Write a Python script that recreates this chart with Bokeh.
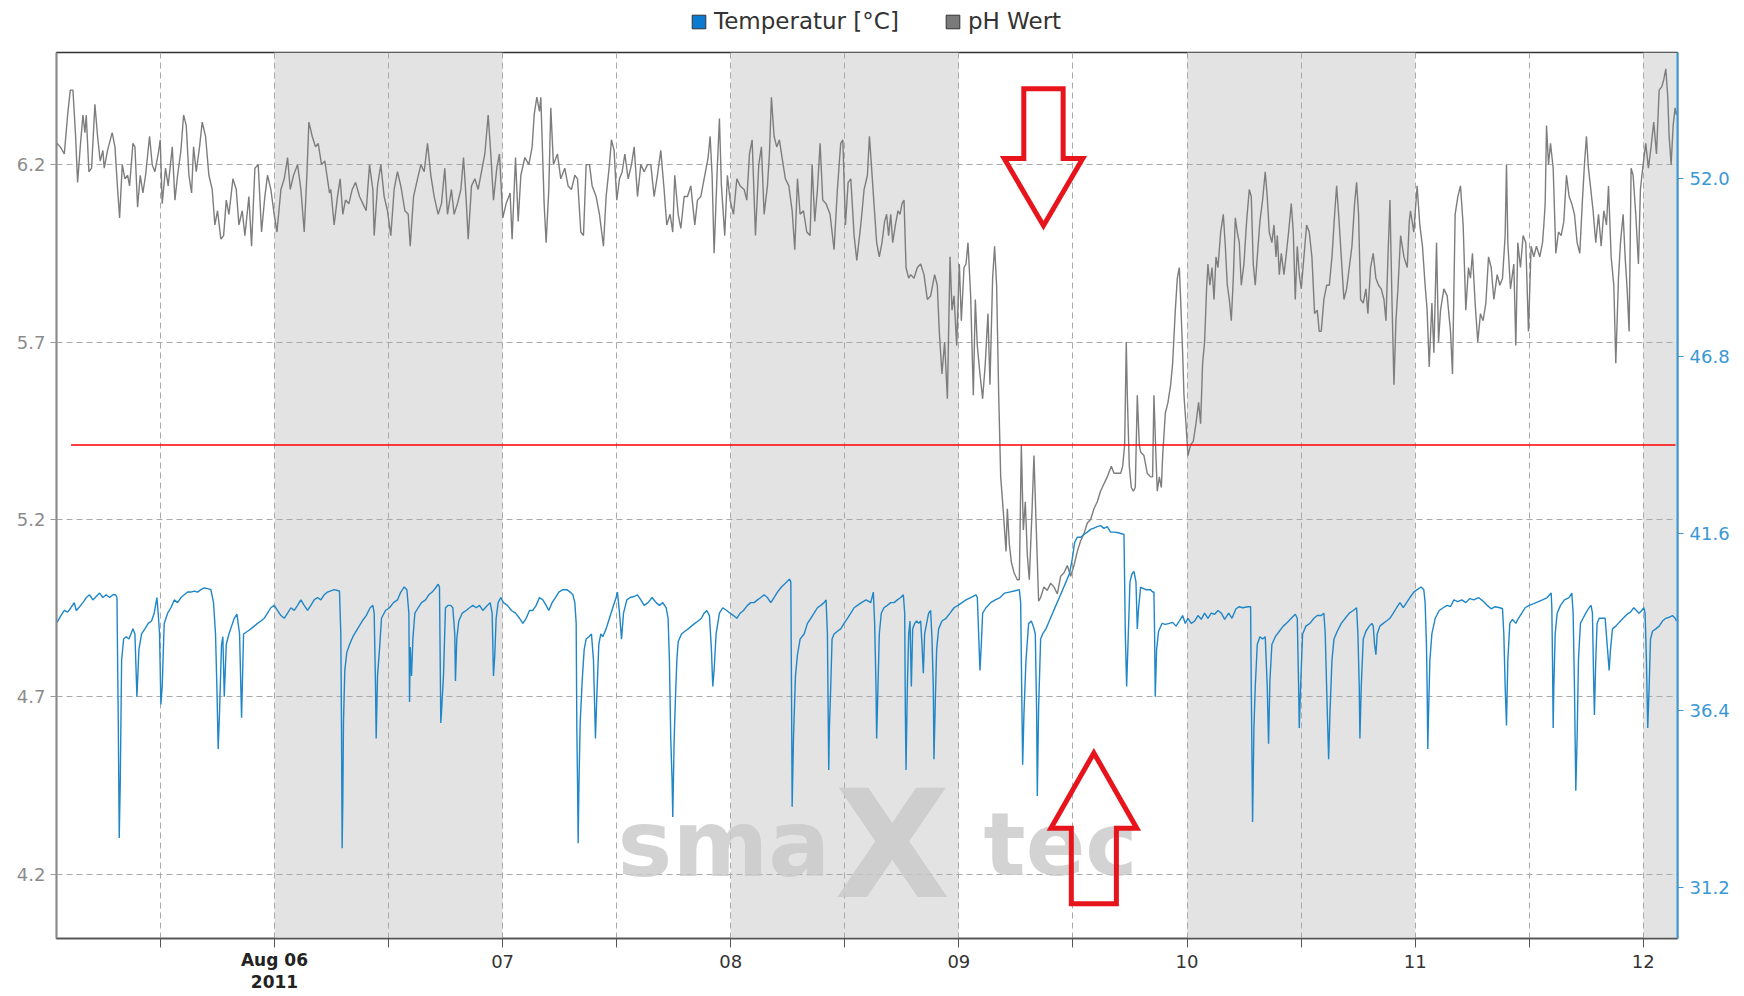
from bokeh.plotting import figure
from bokeh.layouts import column
from bokeh.models import (Range1d, LinearAxis, FixedTicker, BoxAnnotation, Label,
                          Legend, LegendItem, NumeralTickFormatter)
from bokeh.embed import file_html
from bokeh.resources import INLINE

# time axis: hours counted from 2011-08-05 00:00
# ---------------- pH Wert (hours, pH) ----------------
PH_PART1 = [(1.11,6.26),(1.47,6.25),(1.89,6.23),(2.24,6.34),(2.52,6.41),(2.80,6.41),(3.08,6.28),(3.29,6.15),(3.57,6.25),(3.85,6.34),
            (4.06,6.29),(4.20,6.34),(4.48,6.18),(4.76,6.19),(5.11,6.37),(5.39,6.28),(5.67,6.21),(5.95,6.24),(6.09,6.19),(6.44,6.24),
            (6.93,6.29),(7.22,6.25),(7.50,6.13),(7.71,6.05),(7.99,6.20),(8.27,6.16),(8.55,6.17),(8.76,6.14),(9.11,6.26),(9.32,6.25),
            (9.60,6.08),(9.88,6.17),(10.16,6.12),(10.44,6.17),(10.86,6.28),(11.14,6.20),(11.42,6.18),(11.77,6.23),(11.98,6.27),(12.19,6.09),
            (12.54,6.19),(12.82,6.14),(13.25,6.25),(13.53,6.10),(13.81,6.17),(14.16,6.24),(14.44,6.34),(14.72,6.31),(15.00,6.17),(15.28,6.12),
            (15.49,6.25),(15.77,6.18),(16.12,6.25),(16.40,6.32),(16.75,6.28),(17.10,6.17),(17.45,6.13),(17.73,6.03),(18.01,6.07),(18.36,5.99),
            (18.65,6.00),(18.93,6.10),(19.21,6.06),(19.63,6.16),(19.98,6.13),(20.26,6.03),(20.61,6.07),(20.89,6.00),(21.31,6.11),(21.59,5.97),
            (21.94,6.19),(22.29,6.20),(22.64,6.01),(22.99,6.11),(23.27,6.17),(23.62,6.13),(23.97,6.06),(24.26,6.01),(24.68,6.13),(25.03,6.16),
            (25.38,6.22),(25.66,6.13),(26.01,6.17),(26.43,6.20),(26.78,6.13),(27.13,6.01),(27.41,6.17),(27.62,6.32),(27.97,6.28),(28.32,6.25),
            (28.60,6.26),(28.95,6.20),(29.30,6.21),(29.79,6.12)]
PH_PART2 = [(29.93,6.13),(30.28,6.03),(30.63,6.11),(30.91,6.16),(31.19,6.06),(31.47,6.10),(31.83,6.09),(32.18,6.13),(32.53,6.15),(32.95,6.11),
            (33.30,6.09),(33.65,6.07),(34.00,6.20),(34.35,6.13),(34.49,6.00),(34.84,6.14),(35.19,6.20),(35.54,6.11),(35.89,6.07),(36.24,6.00),
            (36.59,6.13),(36.94,6.18),(37.29,6.14),(37.72,6.07),(38.07,6.06),(38.28,5.97),(38.63,6.11),(39.05,6.16),(39.40,6.20),(39.75,6.18),
            (40.10,6.26),(40.45,6.17),(40.80,6.11),(41.22,6.06),(41.57,6.09),(41.92,6.19),(42.20,6.06),(42.62,6.13),(42.90,6.06),(43.25,6.09),
            (43.61,6.13),(43.89,6.22),(44.17,6.10),(44.38,5.99),(44.73,6.14),(45.08,6.16),(45.43,6.13),(45.78,6.18),(46.13,6.23),(46.48,6.34),
            (46.76,6.23),(47.04,6.10),(47.39,6.19),(47.67,6.23),(48.02,6.05),(48.37,6.09),(48.79,6.12),(49.00,5.99),(49.36,6.22),(49.64,6.04),
            (49.92,6.17),(50.34,6.22),(50.76,6.20),(51.11,6.25),(51.32,6.34),(51.60,6.39),(51.88,6.35),(52.02,6.39),(52.37,6.09),(52.58,5.98),
            (52.86,6.13),(53.07,6.36),(53.35,6.20),(53.77,6.23),(54.12,6.16),(54.54,6.19),(54.89,6.14),(55.24,6.13),(55.60,6.17),(55.88,6.16),
            (56.23,6.01),(56.51,6.00),(56.79,6.20),(57.14,6.20),(57.42,6.14),(57.84,6.11),(58.19,6.06)]
PH_PART3 = [(58.61,5.97),(58.89,6.11),(59.24,6.20),(59.45,6.27),(59.73,6.24),(60.01,6.10),(60.30,6.16),(60.58,6.18),(60.86,6.23),(61.21,6.16),
            (61.56,6.20),(61.84,6.25),(62.19,6.11),(62.54,6.20),(62.89,6.18),(63.24,6.20),(63.59,6.20),(63.94,6.11),(64.29,6.17),(64.64,6.24),
            (64.99,6.13),(65.27,6.03),(65.62,6.06),(65.90,6.01),(66.11,6.17),(66.47,6.06),(66.75,6.02),(67.10,6.11),(67.45,6.11),(67.80,6.14),
            (68.22,6.03),(68.50,6.10),(68.85,6.11),(69.20,6.16),(69.62,6.22),(69.83,6.28),(70.04,6.17),(70.25,5.95),(70.60,6.20),(70.81,6.33),
            (71.02,6.14),(71.37,6.00),(71.65,6.17),(71.93,6.10),(72.29,6.06),(72.64,6.16),(72.99,6.14),(73.41,6.13),(73.69,6.10),(73.97,6.23),
            (74.25,6.27),(74.60,6.00),(74.95,6.20),(75.23,6.25),(75.51,6.06),(75.86,6.14),(76.07,6.23),(76.28,6.39),(76.56,6.28),(76.84,6.25),
            (77.12,6.27),(77.40,6.22),(77.75,6.16),(78.11,6.14),(78.46,6.07),(78.74,5.96),(79.02,6.16),(79.30,6.06),(79.65,6.07),(80.00,6.01),
            (80.35,6.00),(80.56,6.20),(80.84,6.04),(81.12,6.13),(81.40,6.26),(81.68,6.10),(82.03,6.09),(82.45,6.06),(82.87,5.96),(83.22,6.13),
            (83.57,6.26),(83.79,6.27),(84.07,6.03),(84.35,6.15),(84.63,6.16),(84.98,6.00),(85.26,5.93),(85.68,6.03),(86.03,6.13),(86.38,6.17),
            (86.59,6.28)]
PH_PART4 = [(86.72,6.23),(87.07,6.09),(87.35,5.98),(87.63,5.94),(87.91,5.98),(88.19,6.04),(88.40,6.06),(88.61,6.00),(88.83,6.06),(89.04,5.98),
            (89.32,6.03),(89.60,6.07),(89.81,6.06),(90.02,6.09),(90.23,6.10),(90.44,5.91),(90.72,5.88),(90.93,5.89),(91.28,5.88),(91.63,5.91),
            (91.98,5.92),(92.33,5.89),(92.68,5.82),(93.03,5.83),(93.45,5.89),(93.73,5.86),(93.94,5.73),(94.22,5.61),(94.50,5.70),(94.79,5.54),
            (95.07,5.94),(95.28,5.79),(95.49,5.83),(95.77,5.69),(96.05,5.92),(96.26,5.76),(96.54,5.91),(96.75,5.92),(96.96,5.98),(97.24,5.83),
            (97.52,5.55),(97.73,5.82),(97.94,5.69),(98.22,5.61),(98.50,5.54),(98.78,5.64),(99.06,5.78),(99.27,5.58),(99.55,5.88),(99.76,5.97),
            (99.97,5.86),(100.19,5.55),(100.40,5.32),(100.68,5.22),(100.96,5.11),(101.10,5.23),(101.31,5.13),(101.52,5.08),(101.80,5.05),(102.15,5.03),
            (102.36,5.03),(102.57,5.41),(102.78,5.17),(102.99,5.25),(103.20,5.10),(103.41,5.03),(103.69,5.22),(103.90,5.38),(104.11,5.20),(104.39,4.97),
            (104.60,4.98),(104.95,5.01),(105.30,5.00),(105.65,5.02),(106.00,5.01),(106.36,4.99),(106.71,5.04),(107.06,5.05),(107.41,5.07),(107.76,5.04),
            (108.11,5.07),(108.46,5.11),(108.81,5.14),(109.16,5.16),(109.51,5.19),(109.86,5.20),(110.21,5.23),(110.56,5.25),(110.91,5.28),(111.61,5.32),
            (112.04,5.35),(112.32,5.33),(112.67,5.33),(113.02,5.33),(113.23,5.35),(113.44,5.41),(113.61,5.70),(113.72,5.55),(113.93,5.35),(114.14,5.29),
            (114.35,5.28),(114.56,5.29),(114.77,5.55),(114.98,5.41)]
PH_PART5 = [(115.12,5.39),(115.47,5.38),(115.82,5.33),(116.17,5.32),(116.38,5.32),(116.52,5.55),(116.73,5.38),(116.87,5.28),(117.09,5.32),(117.30,5.29),
            (117.44,5.38),(117.72,5.50),(118.00,5.53),(118.28,5.58),(118.49,5.64),(118.77,5.79),(118.98,5.88),(119.19,5.91),(119.33,5.82),(119.54,5.67),
            (119.68,5.55),(119.89,5.47),(120.10,5.38),(120.38,5.41),(120.66,5.42),(120.94,5.47),(121.22,5.53),(121.43,5.47),(121.64,5.64),(121.85,5.70),
            (122.06,5.85),(122.20,5.92),(122.41,5.86),(122.63,5.91),(122.84,5.82),(123.05,5.94),(123.26,5.91),(123.54,6.01),(123.82,6.06),(124.03,5.97),
            (124.24,5.86),(124.45,5.82),(124.66,5.76),(124.87,5.88),(125.08,6.05),(125.29,6.01),(125.50,5.98),(125.71,5.86),(125.99,5.92),(126.27,6.04),
            (126.55,6.13),(126.76,6.11),(126.97,5.92),(127.18,5.86),(127.39,5.94),(127.67,6.04),(127.95,6.10),(128.23,6.18),(128.44,6.11),(128.65,6.01),
            (128.93,5.98),(129.15,6.03),(129.36,5.94),(129.50,6.00),(129.71,5.89),(129.92,5.95),(130.20,5.89),(130.41,5.94),(130.69,6.01),(130.97,6.09),
            (131.18,6.01),(131.39,5.82),(131.60,5.97),(131.81,5.89),(132.02,5.85),(132.30,5.94),(132.58,6.03),(132.86,6.01),(133.14,5.94),(133.42,5.78),
            (133.70,5.79),(133.91,5.73),(134.12,5.73),(134.40,5.82),(134.69,5.86),(134.97,5.86),(135.25,5.94),(135.53,6.06),(135.74,6.14),(135.95,6.06),
            (136.23,5.94),(136.51,5.82),(136.79,5.85),(137.07,5.91),(137.35,5.97),(137.63,6.09),(137.84,6.15),(138.05,6.06),(138.26,5.82),(138.54,5.81),
            (138.82,5.85),(139.03,5.78),(139.31,5.91),(139.59,5.95),(139.87,5.88),(140.15,5.86),(140.43,5.85),(140.72,5.82),(140.93,5.76),(141.14,5.94),
            (141.35,6.10),(141.56,5.82),(141.77,5.58),(141.98,5.76),(142.19,5.85),(142.47,6.00),(142.82,5.94),(143.17,5.91),(143.38,6.04)]
PH_PART6 = [(143.51,6.07),(143.86,6.01),(144.21,6.14),(144.49,6.03),(144.77,5.97),(145.05,5.86),(145.26,5.79),(145.48,5.63),(145.76,5.81),(145.97,5.67),
            (146.25,5.98),(146.46,5.70),(146.67,5.79),(147.02,5.85),(147.37,5.83),(147.72,5.73),(147.93,5.61),(148.21,6.06),(148.49,6.11),(148.77,6.14),
            (149.05,6.03),(149.33,5.79),(149.61,5.91),(149.82,5.88),(150.03,5.95),(150.31,5.81),(150.59,5.70),(150.87,5.78),(151.15,5.76),(151.44,5.81),
            (151.72,5.94),(152.00,5.91),(152.28,5.82),(152.63,5.89),(152.91,5.86),(153.19,5.88),(153.47,6.00),(153.61,6.20),(153.75,5.98),(154.03,5.85),
            (154.38,5.92),(154.59,5.69),(154.80,5.98),(155.08,5.91),(155.36,6.00),(155.64,5.98),(155.92,5.73),(156.20,5.97),(156.48,5.94),(156.76,5.97),
            (157.11,5.94),(157.40,5.98),(157.54,6.03),(157.68,6.09),(157.82,6.31),(158.03,6.20),(158.24,6.26),(158.52,6.19),(158.80,5.95),(159.08,6.01),
            (159.36,6.00),(159.64,6.04),(159.92,6.17),(160.20,6.11),(160.48,6.09),(160.76,6.06),(161.04,5.98),(161.32,5.95),(161.60,6.10),(161.81,6.20),
            (162.02,6.28),(162.23,6.19),(162.44,6.14),(162.72,6.07),(163.00,5.98),(163.29,6.06),(163.57,5.97),(163.85,6.07),(164.13,6.03),(164.34,6.14),
            (164.62,5.94),(164.90,5.86),(165.11,5.64),(165.39,5.88),(165.60,5.98),(165.88,6.06),(166.09,5.94),(166.30,5.85),(166.51,5.73),(166.72,6.19),
            (166.93,6.17),(167.21,6.06),(167.49,5.92),(167.70,6.13),(167.98,6.20),(168.26,6.26),(168.54,6.19),(168.82,6.25),(169.10,6.32),(169.39,6.23),
            (169.67,6.41),(169.95,6.42),(170.16,6.44),(170.37,6.47),(170.58,6.39),(170.72,6.28),(170.93,6.20),(171.14,6.31),(171.35,6.36),(171.49,6.34)]

# ---------------- Temperatur [°C] (hours, °C) ----------------
TEMP_PART1 = [(1.12,38.98),(1.54,39.18),(1.89,39.33),(2.24,39.28),(2.59,39.41),(2.94,39.56),(3.15,39.33),(3.50,39.44),(3.85,39.56),(4.20,39.71),
              (4.55,39.79),(4.90,39.64),(5.25,39.74),(5.60,39.84),(5.95,39.71),(6.30,39.79),(6.65,39.71),(7.00,39.79),(7.29,39.79),(7.43,39.71),
              (7.57,36.03),(7.67,32.65),(7.78,34.34),(7.92,37.87),(8.13,38.49),(8.41,38.56),(8.69,38.49),(8.90,38.64),(9.11,38.79),(9.32,38.64),
              (9.53,36.80),(9.74,38.18),(10.02,38.64),(10.37,38.79),(10.72,38.95),(11.07,39.02),(11.35,39.25),(11.63,39.71),(11.77,39.25),(11.91,38.64),
              (12.05,36.57),(12.19,37.10),(12.40,38.95),(12.76,39.25),(13.11,39.41),(13.46,39.64),(13.81,39.56),(14.16,39.71),(14.51,39.79),(14.86,39.87),
              (15.21,39.87),(15.56,39.90),(15.91,39.87),(16.26,39.94),(16.61,39.99),(16.96,39.97),(17.31,39.94),(17.59,39.56),(17.80,38.64),(17.94,37.10),
              (18.08,35.26),(18.22,36.34),(18.43,38.33),(18.57,38.56),(18.72,36.80),(18.93,38.33),(19.21,38.64),(19.49,38.87),(19.77,39.10),(20.05,39.22),
              (20.33,38.64),(20.54,36.18),(20.75,38.64),(21.17,38.72),(21.52,38.79),(21.87,38.87),(22.22,38.95),(22.57,39.02),(22.92,39.10),(23.27,39.25),
              (23.62,39.41),(23.97,39.48),(24.32,39.33),(24.68,39.18),(25.03,39.10),(25.38,39.25),(25.73,39.41),(26.08,39.33),(26.43,39.48),(26.78,39.64),
              (27.13,39.48),(27.48,39.33),(27.83,39.48),(28.18,39.64),(28.53,39.71),(28.88,39.64),(29.23,39.79),(29.58,39.87),(29.86,39.90)]
TEMP_PART2 = [(30.28,39.94),(30.84,39.90),(30.98,38.64),(31.05,36.03),(31.12,32.35),(31.19,33.73),(31.26,36.03),(31.40,37.57),(31.61,38.10),(31.90,38.33),
              (32.25,38.56),(32.74,38.79),(33.23,39.02),(33.65,39.18),(34.07,39.41),(34.35,39.48),(34.49,39.25),(34.63,37.10),(34.70,35.57),(34.84,37.41),
              (35.05,38.18),(35.26,39.10),(35.68,39.33),(36.10,39.41),(36.52,39.56),(36.94,39.64),(37.29,39.87),(37.65,40.02),(37.93,39.94),(38.14,39.25),
              (38.21,36.64),(38.28,38.26),(38.42,37.41),(38.56,38.49),(38.77,39.25),(39.12,39.41),(39.47,39.56),(39.89,39.64),(40.24,39.79),(40.59,39.87),
              (40.94,39.99),(41.22,40.10),(41.36,40.02),(41.50,36.03),(41.57,36.34),(41.78,37.41),(41.99,39.41),(42.27,39.48),(42.55,39.48),(42.76,39.41),
              (42.97,38.64),(43.04,37.26),(43.18,38.49),(43.39,39.02),(43.75,39.25),(44.17,39.33),(44.52,39.41),(44.87,39.48),(45.22,39.41),(45.57,39.48),
              (45.92,39.33),(46.27,39.44),(46.69,39.56),(46.90,39.25),(47.04,37.41),(47.18,38.03),(47.32,39.10),(47.53,39.56),(47.81,39.71),(48.09,39.56),
              (48.51,39.48),(48.93,39.33),(49.36,39.25),(49.78,39.10),(50.13,38.95),(50.48,39.10),(50.83,39.33),(51.18,39.33),(51.53,39.48),(51.88,39.71),
              (52.23,39.64),(52.58,39.48),(52.86,39.33),(53.21,39.56),(53.56,39.71),(53.91,39.87),(54.33,39.94),(54.75,39.94),(55.10,39.87),(55.39,39.79),
              (55.60,39.56),(55.74,38.95),(55.81,35.88),(55.88,34.34),(55.95,32.50),(56.02,34.04),(56.16,36.03),(56.37,37.26),(56.58,38.18),(56.79,38.49),
              (57.07,38.56),(57.35,38.64),(57.56,37.87),(57.77,35.57),(57.91,36.80),(58.12,38.33),(58.33,38.64)]
TEMP_PART3 = [(58.54,38.56),(58.89,38.79),(59.24,39.10),(59.59,39.41),(59.94,39.71),(60.08,39.87),(60.30,39.25),(60.51,38.49),(60.72,39.25),(61.07,39.64),
              (61.42,39.71),(61.84,39.74),(62.19,39.79),(62.54,39.64),(62.89,39.48),(63.31,39.56),(63.73,39.71),(64.15,39.56),(64.50,39.48),(64.85,39.56),
              (65.20,39.41),(65.41,39.10),(65.55,37.87),(65.69,35.57),(65.83,34.34),(65.90,33.27),(66.05,35.57),(66.19,36.80),(66.33,37.87),(66.47,38.41),
              (66.82,38.64),(67.17,38.72),(67.52,38.79),(67.87,38.87),(68.22,38.95),(68.57,39.02),(68.92,39.10),(69.20,39.25),(69.48,39.33),(69.76,39.18),
              (69.97,38.18),(70.11,37.10),(70.25,37.57),(70.46,38.64),(70.81,39.25),(71.16,39.41),(71.58,39.33),(71.93,39.25),(72.29,39.18),(72.64,39.10),
              (72.99,39.25),(73.34,39.33),(73.76,39.48),(74.11,39.56),(74.46,39.56),(74.81,39.64),(75.16,39.71),(75.51,39.79),(75.86,39.71),(76.21,39.56),
              (76.56,39.71),(76.91,39.87),(77.33,40.02),(77.75,40.13),(78.18,40.25),(78.32,40.17),(78.39,37.10),(78.46,33.57),(78.60,35.57),(78.81,37.41),
              (79.02,38.03),(79.30,38.49),(79.72,38.64),(80.07,38.95),(80.42,39.10),(80.77,39.25),(81.12,39.41),(81.47,39.48),(81.82,39.56),(82.03,39.64),
              (82.17,38.64),(82.31,34.65),(82.38,35.88),(82.52,37.10),(82.66,38.49),(82.87,38.64),(83.22,38.72),(83.57,38.79),(83.92,38.95),(84.28,39.10),
              (84.63,39.25),(84.98,39.41),(85.33,39.48),(85.75,39.56),(86.24,39.64),(86.73,39.56)]
TEMP_PART4 = [(87.00,39.87),(87.14,38.95),(87.28,37.10),(87.35,35.57),(87.49,37.10),(87.63,38.64),(87.84,39.25),(88.12,39.41),(88.47,39.48),(88.83,39.56),
              (89.18,39.56),(89.53,39.64),(89.88,39.71),(90.16,39.79),(90.30,39.25),(90.37,36.34),(90.44,34.65),(90.58,37.10),(90.72,38.64),(90.86,39.02),
              (91.00,37.10),(91.14,38.79),(91.35,38.95),(91.56,39.02),(91.77,38.95),(91.98,39.02),(92.12,38.33),(92.26,37.49),(92.40,38.64),(92.61,38.95),
              (92.82,39.25),(93.03,39.33),(93.17,38.49),(93.31,37.10),(93.38,34.96),(93.52,36.64),(93.66,38.18),(93.87,38.79),(94.22,39.02),(94.65,39.10),
              (95.07,39.25),(95.49,39.41),(95.91,39.48),(96.33,39.56),(96.75,39.64),(97.24,39.71),(97.80,39.79),(97.94,39.71),(98.08,38.64),(98.22,37.57),
              (98.36,38.33),(98.50,39.25),(98.85,39.41),(99.34,39.56),(99.83,39.64),(100.33,39.71),(100.82,39.84),(101.31,39.87),(101.80,39.90),(102.36,39.94),
              (102.50,39.56),(102.64,36.34),(102.71,34.80),(102.85,36.34),(103.06,37.87),(103.34,38.95),(103.62,39.02),(103.83,38.87),(104.04,38.64),(104.18,36.34),
              (104.25,33.88),(104.39,36.49),(104.60,38.49),(104.81,38.64),(105.16,38.79),(105.51,39.02),(105.86,39.25),(106.21,39.48),(106.57,39.71),(106.92,39.94),
              (107.27,40.17),(107.62,40.40),(107.90,40.79),(108.18,41.33),(108.46,41.48),(108.81,41.48),(109.16,41.56),(109.51,41.63),(109.86,41.71),(110.21,41.75),
              (110.56,41.79),(110.91,41.82),(111.26,41.74),(111.61,41.79),(111.96,41.63),(112.32,41.63),(112.67,41.62),(113.02,41.59),(113.37,41.56),(113.51,38.64),
              (113.65,37.10),(113.79,38.33),(114.00,40.17),(114.21,40.40),(114.42,40.48),(114.63,40.17),(114.77,38.79),(114.91,39.41),(115.12,40.02)]
TEMP_PART5 = [(115.26,39.99),(115.68,39.94),(116.17,39.94),(116.38,39.87),(116.52,39.87),(116.59,38.64),(116.66,36.80),(116.80,38.18),(117.01,38.72),(117.37,38.95),
              (117.72,38.92),(118.14,38.95),(118.49,38.98),(118.84,38.87),(119.19,39.02),(119.54,39.18),(119.82,38.95),(120.10,39.10),(120.45,38.95),(120.80,39.02),
              (121.15,39.18),(121.50,39.07),(121.85,39.25),(122.20,39.10),(122.55,39.25),(122.90,39.22),(123.26,39.33),(123.61,39.25),(123.96,39.07),(124.38,39.25),
              (124.73,39.10),(125.15,39.38),(125.50,39.44),(125.85,39.41),(126.41,39.44),(126.69,39.44),(126.76,37.10),(126.90,33.12),(127.04,35.88),(127.18,37.10),
              (127.39,38.33),(127.67,38.56),(127.95,38.49),(128.23,38.56),(128.44,37.10),(128.58,35.42),(128.72,37.26),(128.93,38.33),(129.29,38.56),(129.71,38.72),
              (130.13,38.87),(130.55,38.98),(130.97,39.10),(131.39,39.22),(131.60,39.10),(131.74,37.10),(131.81,35.88),(131.95,37.10),(132.16,38.64),(132.51,38.87),
              (132.93,38.95),(133.35,39.10),(133.70,39.18),(134.12,39.18),(134.40,39.25),(134.54,38.64),(134.76,36.34),(134.90,34.96),(135.04,36.34),(135.25,37.87),
              (135.46,38.49),(135.81,38.72),(136.23,38.95),(136.65,39.10),(137.07,39.25),(137.49,39.33),(137.84,39.41),(137.98,38.64),(138.12,37.10),(138.19,35.57),
              (138.33,37.10),(138.54,38.49),(138.82,38.72),(139.17,38.87),(139.45,38.95),(139.59,38.87),(139.73,38.33),(139.87,38.03),(140.01,38.64),(140.29,38.87),
              (140.64,38.95),(140.99,39.02),(141.35,39.10),(141.70,39.25),(142.05,39.41),(142.40,39.56),(142.75,39.41),(143.10,39.56),(143.45,39.71)]
TEMP_PART6 = [(143.86,39.87),(144.21,39.94),(144.63,40.02),(144.91,39.94),(145.05,39.56),(145.19,38.33),(145.26,37.10),(145.33,35.26),(145.40,36.18),(145.55,37.87),
              (145.76,38.64),(146.11,39.10),(146.53,39.33),(146.95,39.41),(147.37,39.48),(147.72,39.44),(148.07,39.64),(148.49,39.59),(148.91,39.64),(149.33,39.56),
              (149.75,39.68),(150.17,39.64),(150.66,39.71),(151.08,39.62),(151.58,39.48),(152.00,39.38),(152.42,39.44),(152.91,39.41),(153.19,39.38),(153.33,38.64),
              (153.47,37.10),(153.61,35.95),(153.75,37.87),(153.96,38.95),(154.24,39.07),(154.59,38.95),(154.87,39.10),(155.22,39.25),(155.57,39.41),(155.99,39.48),
              (156.48,39.53),(156.97,39.59),(157.40,39.64),(157.89,39.71),(158.31,39.84),(158.38,39.41),(158.45,37.87),(158.52,35.88),(158.59,37.10),(158.73,38.64),
              (158.94,39.25),(159.29,39.48),(159.71,39.64),(160.20,39.71),(160.48,39.84),(160.62,39.25),(160.76,37.10),(160.90,34.04),(161.04,35.57),(161.18,37.87),
              (161.39,38.95),(161.67,39.10),(161.95,39.25),(162.30,39.41),(162.51,39.48),(162.65,39.25),(162.79,37.10),(162.86,36.26),(163.00,37.87),(163.14,38.95),
              (163.36,39.10),(163.78,39.10),(163.99,39.10),(164.20,38.33),(164.41,37.57),(164.55,38.18),(164.76,38.79),(165.11,38.87),(165.46,38.98),(165.88,39.10),
              (166.30,39.22),(166.65,39.28),(167.00,39.41),(167.28,39.33),(167.56,39.25),(167.84,39.33),(168.05,39.41),(168.19,39.25),(168.33,37.87),(168.47,35.88),
              (168.62,37.10),(168.76,38.49),(168.97,38.72),(169.32,38.79),(169.67,38.87),(170.02,39.02),(170.37,39.10),(170.72,39.13),(171.07,39.18),(171.35,39.10),
              (171.49,39.02)]

# ---------------- axes / labels / annotations ----------------
SERIES_NAMES = ["Temperatur [°C]", "pH Wert"]
SERIES_SWATCHES = ["#0b7ad1", "#7a7a7a"]
X_RANGE = (1.07, 171.6)              # hours
PH_RANGE = (4.019, 6.516)
TEMP_RANGE = (29.70, 55.71)
PH_TICKS = [4.2, 4.7, 5.2, 5.7, 6.2]
TEMP_TICKS = [31.2, 36.4, 41.6, 46.8, 52.0]
HOUR_TICKS = [12, 24, 36, 48, 60, 72, 84, 96, 108, 120, 132, 144, 156, 168]
DAY_LABELS = {48: "07", 72: "08", 96: "09", 120: "10", 144: "11", 168: "12"}
FIRST_DAY = {24: "Aug 06\n2011"}
SHADED_DAYS = [(24, 48), (72, 96), (120, 144), (168, 192)]
PH_THRESHOLD = 5.41
THRESHOLD_FROM, THRESHOLD_TO = 2.6, 171.4
# block arrows: centre hour, y of tail end, y of head base, y of tip, shaft half-width, head half-width (hours)
ARROW_DOWN = dict(x=104.9, tail=6.414, base=6.217, tip=6.028, shaft=2.07, head=4.13)
ARROW_UP = dict(x=110.2, tail=4.117, base=4.330, tip=4.542, shaft=2.37, head=4.52)
WATERMARK = [("sma", 60.1, 4.285, "92px"), ("X", 89.0, 4.283, "150px"), ("tec", 98.6, 4.285, "88px")]

FONT = "DejaVu Sans"
GRAY_LINE = "#7d7d7d"
BLUE_LINE = "#1f86c8"
W = 1740
LEGEND_H = 51
PLOT_H = 943

ph_parts = (PH_PART1, PH_PART2, PH_PART3, PH_PART4, PH_PART5, PH_PART6)
tp_parts = (TEMP_PART1, TEMP_PART2, TEMP_PART3, TEMP_PART4, TEMP_PART5, TEMP_PART6)
ph_h = [t for part in ph_parts for t, _ in part]
ph_v = [v for part in ph_parts for _, v in part]
tp_h = [t for part in tp_parts for t, _ in part]
tp_v = [v for part in tp_parts for _, v in part]

# ---------- legend strip (top) ----------
lg = figure(width=W, height=LEGEND_H, output_backend="svg", toolbar_location=None,
            x_range=Range1d(0, 1), y_range=Range1d(0, 1), x_axis_type=None, y_axis_type=None,
            min_border=0, outline_line_color=None, background_fill_color="white",
            border_fill_color="white")
lg.xgrid.visible = False
lg.ygrid.visible = False
swatches = [lg.quad(left=[-3], right=[-2], top=[-2], bottom=[-3], fill_color=c, line_color="#333333")
            for c in SERIES_SWATCHES]
legend = Legend(items=[LegendItem(label=n, renderers=[r]) for n, r in zip(SERIES_NAMES, swatches)],
                orientation="horizontal", location=(634, 17), padding=0, margin=0,
                spacing=45, glyph_width=17, glyph_height=17, label_standoff=7,
                border_line_color=None, background_fill_alpha=0,
                label_text_font=FONT, label_text_font_size="23px", label_text_color="#333333")
lg.add_layout(legend, "center")

# ---------- main chart ----------
p = figure(width=W, height=PLOT_H, output_backend="svg", toolbar_location=None,
           x_range=Range1d(*X_RANGE), y_range=Range1d(*PH_RANGE),
           min_border_left=56, min_border_right=63, min_border_top=1, min_border_bottom=54,
           background_fill_color="white", border_fill_color="white")
p.outline_line_color = "#333333"
p.outline_line_width = 1.5
p.extra_y_ranges = {"temp": Range1d(*TEMP_RANGE)}

for a, b in SHADED_DAYS:
    p.add_layout(BoxAnnotation(left=a, right=b, fill_color="#e3e3e3", fill_alpha=1.0,
                               line_color=None, level="image"))

p.xgrid.ticker = FixedTicker(ticks=HOUR_TICKS)
p.ygrid.ticker = FixedTicker(ticks=PH_TICKS)
for g in (p.xgrid, p.ygrid):
    g.grid_line_color = "#a9a9a9"
    g.grid_line_dash = "6 4"
    g.grid_line_width = 1

xa = p.xaxis[0]
xa.ticker = FixedTicker(ticks=HOUR_TICKS)
xa.major_label_overrides = {t: DAY_LABELS.get(t, "") for t in HOUR_TICKS}
xa.axis_line_color = "#555555"
xa.axis_line_width = 1.5
xa.major_tick_line_color = "#555555"
xa.major_tick_in = 0
xa.major_tick_out = 9
xa.minor_tick_line_color = None
xa.major_label_standoff = 7
xa.major_label_text_font = FONT
xa.major_label_text_font_size = "18px"
xa.major_label_text_color = "#333333"

xb = LinearAxis(ticker=FixedTicker(ticks=list(FIRST_DAY)), major_label_overrides=FIRST_DAY)
xb.axis_line_color = None
xb.major_tick_line_color = None
xb.minor_tick_line_color = None
xb.major_tick_in = 0
xb.major_tick_out = 0
xb.major_label_standoff = -21
xb.major_label_text_font = FONT
xb.major_label_text_font_style = "bold"
xb.major_label_text_font_size = "17px"
xb.major_label_text_line_height = 1.1
xb.major_label_text_color = "#222222"
p.add_layout(xb, "below")

ya = p.yaxis[0]
ya.ticker = FixedTicker(ticks=PH_TICKS)
ya.formatter = NumeralTickFormatter(format="0.0")
ya.axis_line_color = "#8a8a8a"
ya.axis_line_width = 1.5
ya.major_tick_line_color = "#999999"
ya.major_tick_in = 0
ya.major_tick_out = 6
ya.minor_tick_line_color = None
ya.major_label_standoff = 5
ya.major_label_text_font = FONT
ya.major_label_text_font_size = "18px"
ya.major_label_text_color = "#8c8c8c"

ra = LinearAxis(y_range_name="temp", ticker=FixedTicker(ticks=TEMP_TICKS),
                formatter=NumeralTickFormatter(format="0.0"))
ra.axis_line_color = "#3a98d4"
ra.axis_line_width = 2
ra.major_tick_line_color = "#3a98d4"
ra.major_tick_in = 0
ra.major_tick_out = 6
ra.minor_tick_line_color = None
ra.major_label_standoff = 6
ra.major_label_text_font = FONT
ra.major_label_text_font_size = "18px"
ra.major_label_text_color = "#3a98d4"
p.add_layout(ra, "right")

for txt, wx, wy, size in WATERMARK:
    p.add_layout(Label(x=wx, y=wy, text=txt, text_font_size=size, text_color="#c8c8c8",
                       text_alpha=0.8, text_font=FONT, text_font_style="bold",
                       text_align="center" if txt == "X" else "left",
                       text_baseline="alphabetic", level="underlay"))

p.line(ph_h, ph_v, line_color=GRAY_LINE, line_width=1.4)
p.line(tp_h, tp_v, line_color=BLUE_LINE, line_width=1.4, y_range_name="temp")

p.line([THRESHOLD_FROM, THRESHOLD_TO], [PH_THRESHOLD, PH_THRESHOLD], line_color="#ff0000", line_width=1.6)

def arrow_outline(a):
    x, s, h = a["x"], a["shaft"], a["head"]
    xs = [x - s, x + s, x + s, x + h, x, x - h, x - s]
    ys = [a["tail"], a["tail"], a["base"], a["base"], a["tip"], a["base"], a["base"]]
    return xs, ys

for a in (ARROW_DOWN, ARROW_UP):
    xs, ys = arrow_outline(a)
    p.patch(xs, ys, fill_alpha=0, line_color="#e8141c", line_width=5, line_join="miter")

layout = column(lg, p, spacing=0)
open("out.html", "w").write(file_html(layout, INLINE))
